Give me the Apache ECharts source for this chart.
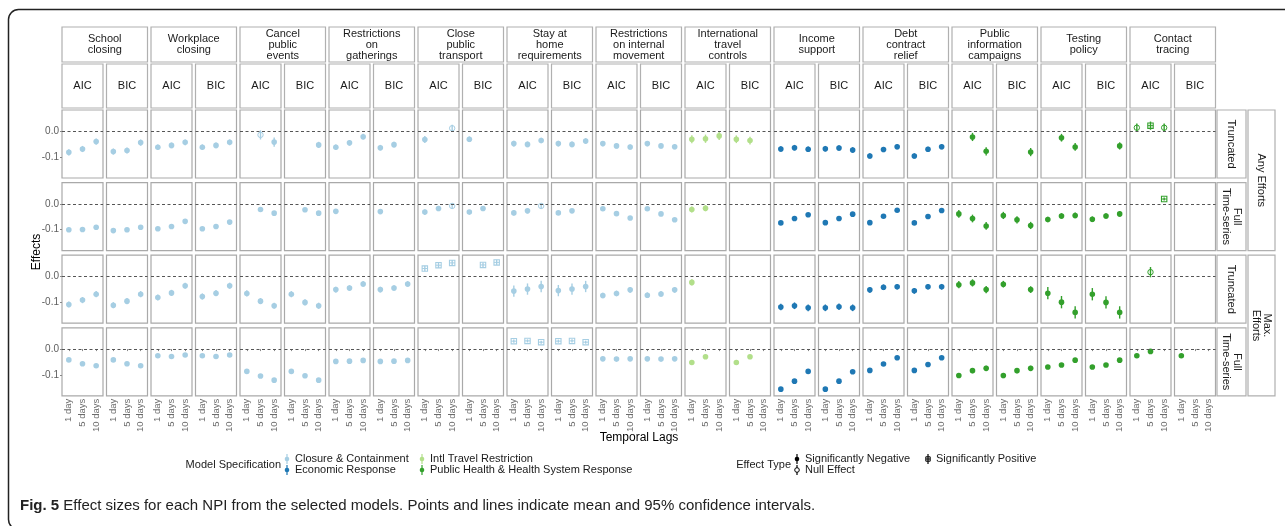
<!DOCTYPE html>
<html>
<head>
<meta charset="utf-8">
<script src="https://cdn.jsdelivr.net/npm/echarts@6/dist/echarts.min.js"></script>
<style>
  html, body { margin: 0; padding: 0; background: #fff; }
  #chart { width: 1285px; height: 526px; }
</style>
</head>
<body>
<div id="chart"></div>
<script>
const npis = ['School\nclosing', 'Workplace\nclosing', 'Cancel\npublic\nevents', 'Restrictions\non\ngatherings',
  'Close\npublic\ntransport', 'Stay at\nhome\nrequirements', 'Restrictions\non internal\nmovement',
  'International\ntravel\ncontrols', 'Income\nsupport', 'Debt\ncontract\nrelief', 'Public\ninformation\ncampaigns',
  'Testing\npolicy', 'Contact\ntracing'];
// model specification group of each NPI (index into groupNames)
const npiGroup = [0, 0, 0, 0, 0, 0, 0, 2, 1, 1, 3, 3, 3];
const specs = ['AIC', 'BIC'];
const lags = ['1 day', '5 days', '10 days'];
const rowLabels = ['Truncated', 'Full\nTime-series', 'Truncated', 'Full\nTime-series'];
const effortLabels = ['Any Efforts', 'Max.\nEfforts'];
const groupNames = ['Closure & Containment', 'Economic Response', 'Intl Travel Restriction', 'Public Health & Health System Response'];
const groupColors = ['#a6cee3', '#1f78b4', '#b2df8a', '#33a02c'];
const yTicks = [-0.1, 0];

// estimates: one array of 3 lags per panel (NPI x AIC/BIC), null = not selected
const anyTruncEst = [
  [-0.082, -0.069, -0.040], [-0.079, -0.075, -0.044],
  [-0.062, -0.055, -0.043], [-0.062, -0.055, -0.043],
  [null, -0.014, -0.042], [null, null, -0.053],
  [-0.062, -0.045, -0.021], [-0.064, -0.052, null],
  [-0.032, null, 0.012], [-0.031, null, null],
  [-0.048, -0.051, -0.036], [-0.048, -0.051, -0.038],
  [-0.048, -0.057, -0.061], [-0.048, -0.057, -0.060],
  [-0.031, -0.029, -0.018], [-0.031, -0.036, null],
  [-0.069, -0.064, -0.070], [-0.068, -0.065, -0.073],
  [-0.096, -0.071, -0.060], [-0.096, -0.070, -0.060],
  [null, -0.022, -0.078], [null, null, -0.081],
  [null, -0.025, -0.061], [null, null, -0.057],
  [0.014, 0.022, 0.014], [null, null, null]
];
const anyFullEst = [
  [-0.101, -0.100, -0.091], [-0.104, -0.101, -0.091],
  [-0.097, -0.088, -0.068], [-0.097, -0.088, -0.071],
  [null, -0.022, -0.036], [null, -0.023, -0.036],
  [-0.029, null, null], [-0.030, null, null],
  [-0.032, -0.018, -0.008], [-0.032, -0.018, null],
  [-0.035, -0.027, -0.008], [-0.035, -0.027, null],
  [-0.019, -0.038, -0.055], [-0.019, -0.039, -0.062],
  [-0.022, -0.017, null], [null, null, null],
  [-0.074, -0.057, -0.042], [-0.073, -0.057, -0.040],
  [-0.073, -0.048, -0.025], [-0.074, -0.049, -0.026],
  [-0.039, -0.057, -0.086], [-0.045, -0.062, -0.084],
  [-0.061, -0.047, -0.045], [-0.060, -0.047, -0.039],
  [null, null, 0.019], [null, null, null]
];
const maxTruncEst = [
  [-0.109, -0.092, -0.069], [-0.112, -0.096, -0.069],
  [-0.082, -0.064, -0.036], [-0.078, -0.065, -0.036],
  [-0.066, -0.096, -0.114], [-0.069, -0.101, -0.114],
  [-0.051, -0.045, -0.029], [-0.051, -0.045, -0.029],
  [0.031, 0.044, 0.053], [null, 0.045, 0.055],
  [-0.057, -0.049, -0.039], [-0.055, -0.049, -0.039],
  [-0.074, -0.066, -0.052], [-0.073, -0.068, -0.052],
  [-0.023, null, null], [null, null, null],
  [-0.119, -0.114, -0.122], [-0.122, -0.118, -0.122],
  [-0.052, -0.042, -0.040], [-0.056, -0.040, -0.040],
  [-0.032, -0.025, -0.051], [-0.030, null, -0.051],
  [-0.065, -0.100, -0.140], [-0.069, -0.101, -0.140],
  [null, 0.017, null], [null, null, null]
];
const maxFullEst = [
  [-0.042, -0.057, -0.065], [-0.042, -0.057, -0.065],
  [-0.026, -0.029, -0.023], [-0.026, -0.029, -0.023],
  [-0.087, -0.105, -0.121], [-0.087, -0.104, -0.121],
  [-0.048, -0.047, -0.044], [-0.048, -0.047, -0.044],
  [null, null, null], [null, null, null],
  [0.031, 0.032, 0.027], [0.031, 0.032, 0.027],
  [-0.038, -0.039, -0.038], [-0.038, -0.039, -0.038],
  [-0.052, -0.030, null], [-0.052, -0.030, null],
  [-0.156, -0.125, -0.087], [-0.156, -0.125, -0.088],
  [-0.083, -0.058, -0.034], [-0.083, -0.060, -0.034],
  [-0.103, -0.084, -0.075], [-0.103, -0.084, -0.075],
  [-0.070, -0.062, -0.043], [-0.070, -0.062, -0.043],
  [-0.026, -0.009, null], [-0.026, null, null]
];
// half width of the 95% interval, one per panel
const anyTruncHw = [0.012, 0.012, 0.011, 0.011, 0.018, 0.012, 0.011, 0.011, 0.014, 0.011, 0.011, 0.011, 0.010,
  0.010, 0.016, 0.015, 0.011, 0.011, 0.010, 0.010, 0.016, 0.016, 0.015, 0.014, 0.016, 0.010];
const anyFullHw = [0.006, 0.006, 0.006, 0.006, 0.007, 0.007, 0.006, 0.006, 0.010, 0.006, 0.010, 0.006, 0.006,
  0.006, 0.012, 0.010, 0.006, 0.006, 0.006, 0.006, 0.015, 0.014, 0.011, 0.011, 0.006, 0.006];
const maxTruncHw = [0.012, 0.012, 0.012, 0.012, 0.012, 0.012, 0.011, 0.011, 0.011, 0.010, 0.022, 0.022, 0.011,
  0.011, 0.012, 0.010, 0.013, 0.013, 0.011, 0.011, 0.014, 0.013, 0.024, 0.024, 0.020, 0.010];
const maxFullHw = [0.004, 0.004, 0.004, 0.004, 0.005, 0.005, 0.004, 0.004, 0.005, 0.005, 0.006, 0.006, 0.004,
  0.004, 0.005, 0.005, 0.005, 0.005, 0.005, 0.005, 0.010, 0.010, 0.006, 0.006, 0.005, 0.005];

const rowsEst = [anyTruncEst, anyFullEst, maxTruncEst, maxFullEst];
const rowsHw = [anyTruncHw, anyFullHw, maxTruncHw, maxFullHw];

const PW = 41, PH = 68;
const panelLeft = p => 62 + p * 44.5;
const panelTop = r => 110 + r * 72.6;
const FONT = 'Liberation Sans, Arial, sans-serif';

function renderItem(params, api) {
  const x = api.value(0);
  const c = groupColors[api.value(5)];
  const p = api.coord([x, api.value(1)]);
  const lo = api.coord([x, api.value(2)]);
  const hi = api.coord([x, api.value(3)]);
  const type = api.value(4);
  const kids = [{ type: 'line', shape: { x1: p[0], y1: lo[1], x2: p[0], y2: hi[1] }, style: { stroke: c, lineWidth: 1.4 } }];
  if (type === 0) {
    kids.push({ type: 'circle', shape: { cx: p[0], cy: p[1], r: 2.8 }, style: { fill: c } });
  } else if (type === 1) {
    kids.push({ type: 'circle', shape: { cx: p[0], cy: p[1], r: 2.7 }, style: { fill: 'none', stroke: c, lineWidth: 1 } });
  } else {
    kids.push({ type: 'rect', shape: { x: p[0] - 2.7, y: p[1] - 2.7, width: 5.4, height: 5.4 }, style: { fill: 'none', stroke: c, lineWidth: 1.1 } });
    kids.push({ type: 'line', shape: { x1: p[0] - 2.7, y1: p[1], x2: p[0] + 2.7, y2: p[1] }, style: { stroke: c, lineWidth: 1 } });
  }
  return { type: 'group', children: kids };
}

const grids = [], xAxes = [], yAxes = [], series = [];
for (let r = 0; r < 4; r++) {
  for (let p = 0; p < 26; p++) {
    const gi = r * 26 + p;
    grids.push({ left: panelLeft(p), top: panelTop(r), width: PW, height: PH, show: true,
      borderColor: '#a9a9a9', borderWidth: 1.2, backgroundColor: '#fff' });
    xAxes.push({
      gridIndex: gi, type: 'category', data: lags,
      axisLine: { show: false },
      axisTick: { show: r === 3, alignWithLabel: true, length: 2, lineStyle: { color: '#888' } },
      axisLabel: { show: r === 3, rotate: 90, fontSize: 9.5, color: '#6b6b6b', margin: 3, fontFamily: FONT }
    });
    yAxes.push({
      gridIndex: gi, type: 'value', min: -0.182, max: 0.083,
      splitLine: { show: false }, axisLine: { show: false },
      axisTick: { show: p === 0, length: 2, customValues: yTicks, lineStyle: { color: '#888' } },
      axisLabel: { show: p === 0, customValues: yTicks, fontSize: 10, color: '#5e5e5e', margin: 3, fontFamily: FONT,
        formatter: v => v.toFixed(1) }
    });
    const g = npiGroup[Math.floor(p / 2)];
    const data = [];
    rowsEst[r][p].forEach((v, i) => {
      if (v === null) return;
      const hw = rowsHw[r][p];
      const lo = v - hw, hi = v + hw;
      const type = lo > 0 ? 2 : (hi < 0 ? 0 : 1);
      data.push([i, v, lo, hi, type, g]);
    });
    series.push({
      type: 'custom', xAxisIndex: gi, yAxisIndex: gi, data, renderItem,
      encode: { x: 0, y: [1, 2, 3] },
      markLine: { silent: true, symbol: 'none', label: { show: false },
        lineStyle: { type: [3, 2.5], color: '#555', width: 1 }, data: [{ yAxis: 0 }] }
    });
  }
}

// facet strips, titles, legend, caption
const graphic = [];
const txt = (x, y, text, extra) => Object.assign({ type: 'text', x, y,
  style: Object.assign({ text, fill: '#1a1a1a', font: '11px ' + FONT, align: 'center', verticalAlign: 'middle', lineHeight: 11 }, extra || {}) });
const box = (x, y, w, h) => ({ type: 'rect', shape: { x, y, width: w, height: h }, style: { fill: '#fff', stroke: '#b0b0b0', lineWidth: 1.2 } });

graphic.push({ type: 'rect', shape: { x: 8.5, y: 9.5, width: 1300, height: 520, r: 10 }, style: { fill: 'none', stroke: '#222', lineWidth: 1.5 } });

npis.forEach((name, k) => {
  const x0 = panelLeft(2 * k), x1 = panelLeft(2 * k + 1) + PW;
  graphic.push(box(x0, 27, x1 - x0, 35));
  graphic.push(txt((x0 + x1) / 2, 44.5, name));
  specs.forEach((s, j) => {
    const x = panelLeft(2 * k + j);
    graphic.push(box(x, 64, PW, 44));
    graphic.push(txt(x + PW / 2, 86, s));
  });
});
rowLabels.forEach((lab, r) => {
  graphic.push(box(1217, panelTop(r), 29, PH));
  const t = txt(1231.5, panelTop(r) + PH / 2, lab);
  t.rotation = -Math.PI / 2;
  graphic.push(t);
});
effortLabels.forEach((lab, e) => {
  const y0 = panelTop(2 * e), y1 = panelTop(2 * e + 1) + PH;
  graphic.push(box(1248, y0, 27, y1 - y0));
  const t = txt(1261.5, (y0 + y1) / 2, lab);
  t.rotation = -Math.PI / 2;
  graphic.push(t);
});
const ylab = txt(37, 252, 'Effects', { font: '12px ' + FONT, fill: '#000' });
ylab.rotation = Math.PI / 2;
graphic.push(ylab);
graphic.push(txt(639, 438, 'Temporal Lags', { font: '12px ' + FONT, fill: '#000' }));

// legend glyphs
function glyph(cx, cy, color, type) {
  const items = [{ type: 'line', shape: { x1: cx, y1: cy - 5, x2: cx, y2: cy + 5 }, style: { stroke: color, lineWidth: 1.2 } }];
  if (type === 0) items.push({ type: 'circle', shape: { cx, cy, r: 2.3 }, style: { fill: color } });
  else if (type === 1) items.push({ type: 'circle', shape: { cx, cy, r: 2.3 }, style: { fill: '#fff', stroke: color, lineWidth: 1 } });
  else {
    items.push({ type: 'rect', shape: { x: cx - 2.2, y: cy - 2.2, width: 4.4, height: 4.4 }, style: { fill: 'none', stroke: color, lineWidth: 1 } });
    items.push({ type: 'line', shape: { x1: cx - 2.2, y1: cy, x2: cx + 2.2, y2: cy }, style: { stroke: color, lineWidth: 1 } });
  }
  return items;
}
graphic.push(txt(281, 464.5, 'Model Specification', { align: 'right' }));
const legPos = [[287, 459], [287, 470], [422, 459], [422, 470]];
groupNames.forEach((n, i) => {
  graphic.push(...glyph(legPos[i][0], legPos[i][1], groupColors[i], 0));
  graphic.push(txt(legPos[i][0] + 8, legPos[i][1], n, { align: 'left' }));
});
graphic.push(txt(791, 464.5, 'Effect Type', { align: 'right' }));
const effNames = ['Significantly Negative', 'Null Effect', 'Significantly Positive'];
const effPos = [[797, 459], [797, 470], [928, 459]];
effNames.forEach((n, i) => {
  graphic.push(...glyph(effPos[i][0], effPos[i][1], '#000', i));
  graphic.push(txt(effPos[i][0] + 8, effPos[i][1], n, { align: 'left' }));
});
graphic.push({ type: 'text', x: 20, y: 506, style: {
  text: '{b|Fig. 5} Effect sizes for each NPI from the selected models. Points and lines indicate mean and 95% confidence intervals.',
  fill: '#222', font: '15px Liberation Sans Narrow, Arial Narrow, sans-serif', verticalAlign: 'middle',
  rich: { b: { fontWeight: 'bold', fontSize: 15, fontFamily: 'Liberation Sans Narrow, Arial Narrow, sans-serif', fill: '#222' } } } });

const chart = echarts.init(document.getElementById('chart'));
chart.setOption({
  animation: false,
  grid: grids, xAxis: xAxes, yAxis: yAxes, series, graphic
});
</script>
</body>
</html>
